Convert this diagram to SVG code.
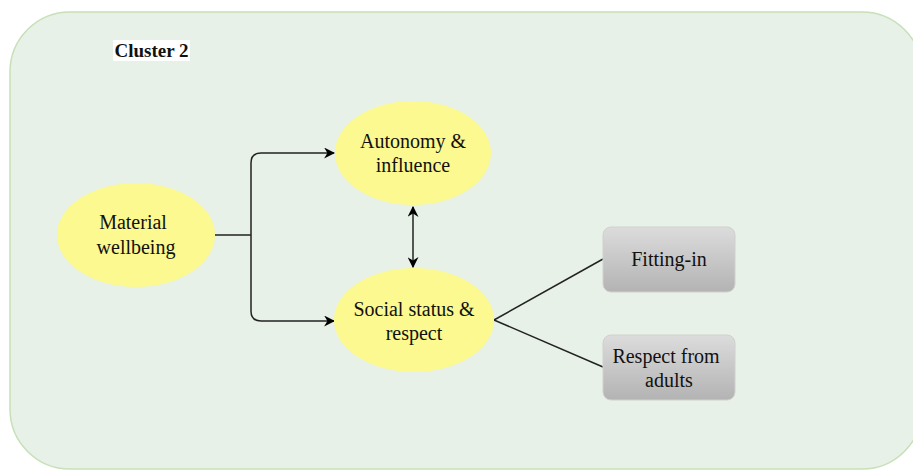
<svg xmlns="http://www.w3.org/2000/svg" width="913" height="471" viewBox="0 0 913 471">
<defs>
<linearGradient id="gray" x1="0" y1="0" x2="0" y2="1">
<stop offset="0" stop-color="#dcdcdc"/>
<stop offset="1" stop-color="#b3b3b3"/>
</linearGradient>
<marker id="arr" viewBox="0 0 10 10" refX="9" refY="5" markerWidth="11" markerHeight="11" markerUnits="userSpaceOnUse" orient="auto-start-reverse">
<path d="M0,0 L10,5 L0,10 L3,5 Z" fill="#000"/>
</marker>
<style>
.t{font-size:20px;fill:#111;text-anchor:middle}
.ell{fill:#fbf98f;stroke:none}
.box{fill:url(#gray);stroke:#d0d0d0;stroke-width:1}
.con{fill:none;stroke:#222;stroke-width:1.5}
</style>
</defs>
<rect x="10" y="12" width="912" height="457" rx="60" ry="60" fill="#e7f1e7" stroke="#c7e0b8" stroke-width="1.5"/>
<g id="label" font-family="Liberation Serif, DejaVu Serif, serif">
<rect x="113" y="40" width="77" height="21" fill="#fff"/>
<text class="t" x="151.5" y="57" style="font-weight:bold;font-size:19px">Cluster 2</text>
</g>
<g id="connectors">
<path class="con" d="M215,235 H251 M251,235 V163 Q251,153 261,153 H334" marker-end="url(#arr)"/>
<path class="con" d="M251,235 V311 Q251,321 261,321 H334" marker-end="url(#arr)"/>
<path class="con" d="M413,207 V267" marker-start="url(#arr)" marker-end="url(#arr)"/>
<path class="con" d="M494,320 L603,259"/>
<path class="con" d="M494,320 L603,367"/>
</g>
<g id="material" font-family="Liberation Serif, DejaVu Serif, serif">
<ellipse class="ell" cx="136" cy="235" rx="79" ry="52"/>
<text class="t" x="133" y="229">Material</text>
<text class="t" x="136" y="254">wellbeing</text>
</g>
<g id="autonomy" font-family="Liberation Serif, DejaVu Serif, serif">
<ellipse class="ell" cx="413" cy="153" rx="78" ry="52"/>
<text class="t" x="413" y="148">Autonomy &amp;</text>
<text class="t" x="413" y="172">influence</text>
</g>
<g id="social" font-family="Liberation Serif, DejaVu Serif, serif">
<ellipse class="ell" cx="414" cy="320" rx="80" ry="52"/>
<text class="t" x="414" y="316">Social status &amp;</text>
<text class="t" x="414" y="340">respect</text>
</g>
<g id="fitting" font-family="Liberation Serif, DejaVu Serif, serif">
<rect class="box" x="603" y="227" width="132" height="65" rx="8"/>
<text class="t" x="669" y="266">Fitting-in</text>
</g>
<g id="adults" font-family="Liberation Serif, DejaVu Serif, serif">
<rect class="box" x="603" y="335" width="132" height="65" rx="8"/>
<text class="t" x="666" y="363">Respect from</text>
<text class="t" x="669" y="387">adults</text>
</g>
</svg>
